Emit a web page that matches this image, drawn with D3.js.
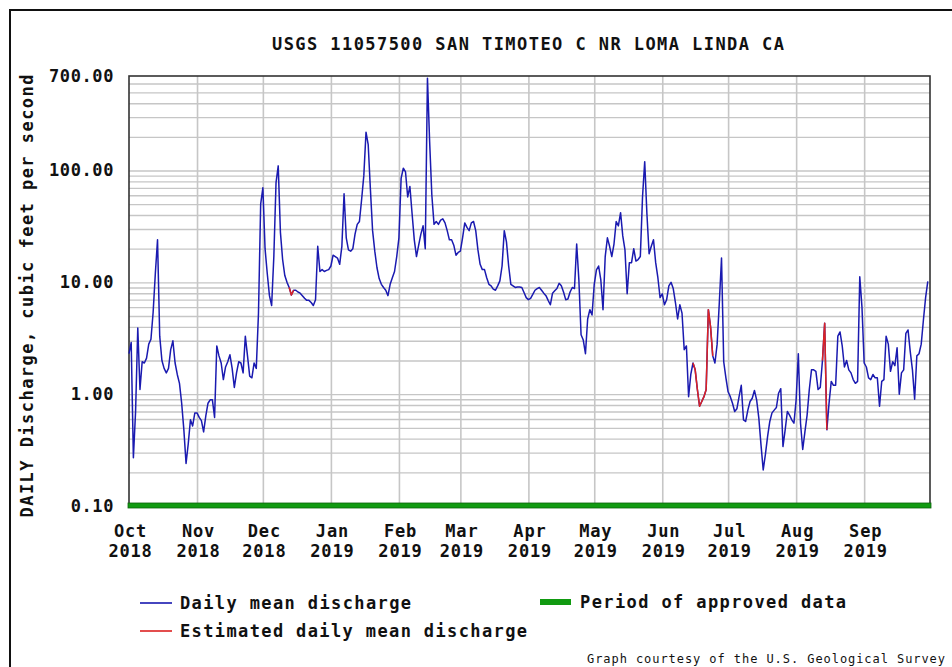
<!DOCTYPE html>
<html><head><meta charset="utf-8">
<script src="https://cdn.jsdelivr.net/npm/d3@7"></script>
<style>html,body{margin:0;padding:0;background:#fff;} svg{display:block;}</style>
</head><body><svg id="chart" width="952" height="667"></svg>
<script>
// ---------------- data ----------------
const chartTitle = "USGS 11057500 SAN TIMOTEO C NR LOMA LINDA CA";
const yAxisTitle = "DAILY Discharge, cubic feet per second";
const monthLabels = ["Oct","Nov","Dec","Jan","Feb","Mar","Apr","May","Jun","Jul","Aug","Sep"];
const yearLabels  = ["2018","2018","2018","2019","2019","2019","2019","2019","2019","2019","2019","2019"];
const yTickValues = [0.1, 1, 10, 100, 700];
const legendLabels = ["Daily mean discharge", "Estimated daily mean discharge", "Period of approved data"];
const footerText = "Graph courtesy of the U.S. Geological Survey";
const startDate = "2018-10-01";
const endDate = "2019-10-01";

// daily mean discharge, cubic feet per second (one value per day)
const oct2018 = [2.3,2.9,0.27,0.7,3.9,1.1,1.95,1.9,2.1,2.8,3.1,5.4,12,24,3.3,2.0,1.7,1.55,1.7,2.5,3.0,1.9,1.5,1.25,0.83,0.48,0.24,0.36,0.59,0.52,0.68];
const nov2018 = [0.68,0.62,0.58,0.46,0.64,0.83,0.89,0.89,0.62,2.7,2.2,1.9,1.35,1.75,1.95,2.25,1.7,1.15,1.55,1.95,1.9,1.55,3.3,2.2,1.45,1.4,1.9,1.7,5.3,50];
const dec2018 = [70,20,12,7.6,6.2,17,78,110,28,16,11.5,10,9.0,7.7,8.5,8.5,8.2,8.0,7.6,7.2,6.9,6.9,6.6,6.2,7.0,21,12.5,13,12.5,12.8,13];
const jan2019 = [14,17.5,17,16.5,14.5,21,62,25,19.5,19,20,27,33,35,55,90,220,170,68,29,19,13.5,10.8,9.6,9.0,8.5,7.6,9.6,11,12.5,17];
const feb2019 = [25,85,105,97,58,72,41,24,17,21.5,27,32,20,670,180,60,33,35,33,36,37,34,29,24,24,21.5,17.5,18.5];
const mar2019 = [19,25,34,31,29,34,35,29,19.5,14.5,13,13,11,9.6,9.3,8.7,8.5,9.3,10.3,14,29,23,14,9.6,9.3,9,9.1,9.1,9,8.1,7.3];
const apr2019 = [7.0,7.2,7.8,8.5,8.8,9,8.5,8,7.6,6.9,6.3,8,8.4,8.8,9.8,9.3,8.2,7,7.1,8.2,9,8.8,22,10.5,3.4,3.05,2.3,4.7,5.7,5.1];
const may2019 = [9.6,12.9,14,10.5,5.7,17,25,21,17,22,35,32,42,26,19.5,7.9,15,15,20,15.5,16,17,58,120,41,18,21,24,15,11,7.3];
const jun2019 = [7.9,6.3,7,9.3,10,8.8,6.6,4.7,6.3,5.3,2.5,2.7,0.95,1.5,1.9,1.65,1.1,0.78,0.86,0.95,1.1,5.7,4.0,2.2,1.9,2.8,6.6,16.5,1.95,1.4];
const jul2019 = [1.05,0.95,0.83,0.7,0.74,0.95,1.2,0.59,0.57,0.72,0.86,0.92,1.08,0.89,0.61,0.35,0.21,0.29,0.42,0.57,0.68,0.72,0.76,1.02,1.12,0.34,0.48,0.7,0.65,0.59,0.55];
const aug2019 = [0.89,2.3,0.55,0.32,0.46,0.65,1.1,1.65,1.65,1.6,1.1,1.15,2.0,4.3,0.48,0.83,1.3,1.2,1.2,3.3,3.6,2.7,1.75,2.0,1.65,1.55,1.35,1.25,1.3,11.2,6];
const sep2019 = [1.9,1.75,1.4,1.35,1.5,1.4,1.4,0.78,1.3,1.35,3.3,2.8,1.6,1.95,1.8,2.6,1.0,1.55,1.65,3.5,3.75,2.4,1.65,0.9,2.2,2.3,2.8,4.6,7.3,10.2];

// periods flagged as estimated (first and last estimated day)
const estimatedPeriods = [["2018-12-13","2018-12-14"],["2019-06-15","2019-06-23"],["2019-08-13","2019-08-14"]];
const approvedPeriod = ["2018-10-01","2019-10-01"];

// ---------------- chart ----------------
const FONT = "'DejaVu Sans Mono', 'Liberation Mono', monospace";
const FS = 17;
const L = 129, R = 930, T = 76, B = 506;
const svg = d3.select("#chart");
const parse = d3.utcParse("%Y-%m-%d");
const start = parse(startDate), end = parse(endDate);

const values = [].concat(oct2018, nov2018, dec2018, jan2019, feb2019, mar2019,
                         apr2019, may2019, jun2019, jul2019, aug2019, sep2019);
const data = values.map((v, i) => ({date: d3.utcDay.offset(start, i), value: v}));

const x = d3.scaleUtc().domain([start, end]).range([L, R]);
const y = d3.scaleLog().domain([0.1, 700]).range([B, T]);

// outer frame
svg.append("path").attr("d", "M10,667V10H952").attr("fill", "none")
  .attr("stroke", "#111").attr("stroke-width", 2);

// horizontal log grid
const minor = [];
[0.1, 1, 10, 100].forEach(d => { for (let k = 1; k <= 9; k++) { const v = k * d; if (v > 0.1 && v < 700) minor.push(v); } });
const hg = svg.append("g").attr("transform", `translate(${L},0)`)
  .call(d3.axisLeft(y).tickValues(minor).tickSize(-(R - L)).tickFormat(""));
hg.select(".domain").remove();
hg.selectAll("line").attr("stroke", "#c6c6c6").attr("stroke-width", 1.4);

// vertical month grid
const monthStarts = d3.utcMonths(start, end);
const vg = svg.append("g").attr("transform", `translate(0,${B})`)
  .call(d3.axisBottom(x).tickValues(monthStarts.slice(1)).tickSize(-(B - T)).tickFormat(""));
vg.select(".domain").remove();
vg.selectAll("line").attr("stroke", "#c6c6c6").attr("stroke-width", 1.6);

// plot frame
svg.append("rect").attr("x", L).attr("y", T).attr("width", R - L).attr("height", B - T)
  .attr("fill", "none").attr("stroke", "#333").attr("stroke-width", 1.6);

// data lines
const line = d3.line().x(d => x(d.date)).y(d => y(d.value));
svg.append("path").datum(data).attr("d", line).attr("fill", "none")
  .attr("stroke", "#1a1ab0").attr("stroke-width", 1.5).attr("stroke-linejoin", "round");
estimatedPeriods.forEach(p => {
  const i0 = d3.utcDay.count(start, parse(p[0]));
  const i1 = d3.utcDay.count(start, parse(p[1]));
  svg.append("path").datum(data.slice(i0, i1 + 2)).attr("d", line).attr("fill", "none")
    .attr("stroke", "#dd2222").attr("stroke-width", 1.5).attr("stroke-linejoin", "round");
});

// approved-data bar
const ap0 = x(parse(approvedPeriod[0])), ap1 = x(parse(approvedPeriod[1]));
svg.append("rect").attr("x", ap0 - 1).attr("y", B - 3).attr("width", ap1 - ap0 + 2).attr("height", 5)
  .attr("fill", "#119a11").attr("stroke", "#0b640b").attr("stroke-width", 0.8);

// y axis labels
const ya = svg.append("g").attr("transform", `translate(${L},0)`)
  .call(d3.axisLeft(y).tickValues(yTickValues).tickSize(0).tickPadding(15).tickFormat(d3.format(".2f")));
ya.select(".domain").remove();
ya.selectAll("text").attr("font-family", FONT).attr("font-weight", "bold").attr("font-size", FS)
  .attr("letter-spacing", "0.6px").attr("fill", "#111");

// x axis labels (two lines)
const xa = svg.append("g").attr("transform", `translate(0,${B})`)
  .call(d3.axisBottom(x).tickValues(monthStarts).tickSize(0).tickFormat(""));
xa.select(".domain").remove();
xa.selectAll(".tick text").remove();
xa.selectAll(".tick").each(function(d, i) {
  const t = d3.select(this).append("text").attr("text-anchor", "middle")
    .attr("font-family", FONT).attr("font-weight", "bold").attr("font-size", FS)
    .attr("letter-spacing", "0.8px").attr("fill", "#111");
  t.append("tspan").attr("x", 1).attr("y", 31).text(monthLabels[i]);
  t.append("tspan").attr("x", 1).attr("y", 51).text(yearLabels[i]);
});

// title
svg.append("text").attr("x", 528).attr("y", 50).attr("text-anchor", "middle")
  .attr("font-family", FONT).attr("font-weight", "bold").attr("font-size", FS)
  .attr("textLength", 512).attr("lengthAdjust", "spacing").attr("fill", "#111").text(chartTitle);

// y axis title
svg.append("text").attr("transform", "translate(33,296) rotate(-90)").attr("text-anchor", "middle")
  .attr("font-family", FONT).attr("font-weight", "bold").attr("font-size", FS)
  .attr("textLength", 443).attr("lengthAdjust", "spacing").attr("fill", "#111").text(yAxisTitle);

// legend
const lg = svg.append("g");
const legendItems = [
  {label: legendLabels[0], color: "#1a1ab0", x: 140, y: 603, w: 32, h: 1.6, tl: 231},
  {label: legendLabels[1], color: "#dd2222", x: 140, y: 631, w: 32, h: 1.6, tl: 347},
  {label: legendLabels[2], color: "#119a11", x: 540, y: 602, w: 31, h: 6, tl: 266}
];
legendItems.forEach(it => {
  lg.append("rect").attr("x", it.x).attr("y", it.y - it.h / 2).attr("width", it.w).attr("height", it.h).attr("fill", it.color);
  lg.append("text").attr("x", it.x + 40).attr("y", it.y + 6)
    .attr("font-family", FONT).attr("font-weight", "bold").attr("font-size", FS)
    .attr("textLength", it.tl).attr("lengthAdjust", "spacing").attr("fill", "#111").text(it.label);
});

// footer
svg.append("text").attr("x", 587).attr("y", 663)
  .attr("font-family", FONT).attr("font-size", 12)
  .attr("textLength", 358).attr("lengthAdjust", "spacing").attr("fill", "#111").text(footerText);
</script></body></html>
